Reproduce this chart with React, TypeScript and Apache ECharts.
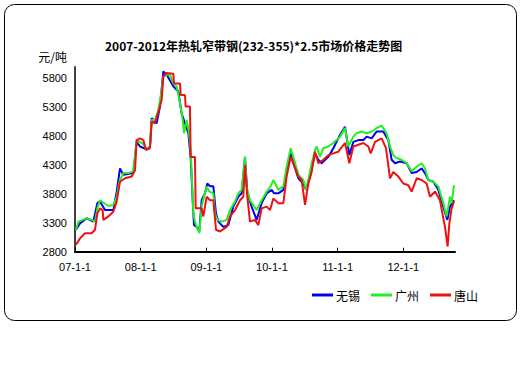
import React, { useEffect, useRef } from "react";
import * as echarts from "echarts";

const titleText = "2007-2012年热轧窄带钢(232-355)*2.5市场价格走势图";
const yUnit = "元/吨";
const xTickLabels = ["07-1-1", "08-1-1", "09-1-1", "10-1-1", "11-1-1", "12-1-1"];
const seriesNames = ["无锡", "广州", "唐山"];

// x = years elapsed since 2007-01-01
const wuxiX = [0.015, 0.076, 0.178, 0.279, 0.34, 0.381, 0.457, 0.584, 0.635, 0.685, 0.736, 0.888, 0.939, 0.99, 1.091, 1.142, 1.168, 1.244, 1.294, 1.345, 1.396, 1.497, 1.574, 1.624, 1.675, 1.726, 1.761, 1.792, 1.812, 1.853, 1.893, 1.929, 1.98, 2.015, 2.056, 2.107, 2.147, 2.183, 2.259, 2.335, 2.411, 2.487, 2.538, 2.589, 2.624, 2.69, 2.766, 2.843, 2.919, 2.995, 3.03, 3.096, 3.173, 3.223, 3.284, 3.325, 3.401, 3.477, 3.518, 3.579, 3.655, 3.706, 3.756, 3.858, 3.934, 4.036, 4.112, 4.178, 4.239, 4.315, 4.391, 4.442, 4.518, 4.594, 4.695, 4.772, 4.822, 4.873, 4.949, 5.051, 5.127, 5.203, 5.279, 5.33, 5.381, 5.457, 5.533, 5.609, 5.67, 5.711, 5.772];
const wuxiY = [3180, 3290, 3380, 3320, 3640, 3670, 3520, 3520, 3840, 4240, 4130, 4160, 4700, 4620, 4570, 4620, 5110, 5020, 5310, 5920, 5860, 5660, 5570, 5190, 5020, 4850, 4440, 3690, 3260, 3230, 3150, 3690, 3810, 3980, 3930, 3930, 3460, 3320, 3230, 3260, 3580, 3750, 3810, 4440, 3810, 3580, 3350, 3640, 3810, 3870, 3810, 3810, 3870, 4210, 4500, 4330, 4070, 3980, 3870, 4100, 4500, 4390, 4330, 4440, 4590, 4820, 4960, 4470, 4700, 4730, 4730, 4790, 4760, 4880, 4880, 4730, 4390, 4330, 4360, 4330, 4160, 4180, 4240, 4160, 4040, 4010, 3870, 3580, 3350, 3580, 3690];

const guangzhouX = [0.015, 0.051, 0.178, 0.254, 0.305, 0.34, 0.381, 0.457, 0.508, 0.584, 0.635, 0.675, 0.736, 0.812, 0.888, 0.939, 0.99, 1.041, 1.091, 1.142, 1.168, 1.218, 1.269, 1.32, 1.345, 1.396, 1.447, 1.497, 1.548, 1.599, 1.64, 1.66, 1.701, 1.736, 1.761, 1.787, 1.802, 1.827, 1.863, 1.893, 1.929, 1.964, 2.005, 2.046, 2.107, 2.132, 2.168, 2.234, 2.31, 2.36, 2.437, 2.487, 2.538, 2.589, 2.614, 2.665, 2.766, 2.843, 2.919, 2.98, 3.02, 3.096, 3.173, 3.223, 3.284, 3.325, 3.401, 3.477, 3.518, 3.553, 3.604, 3.655, 3.68, 3.731, 3.782, 3.858, 3.934, 4.036, 4.112, 4.162, 4.239, 4.289, 4.365, 4.442, 4.518, 4.594, 4.67, 4.746, 4.797, 4.848, 4.898, 4.975, 5.051, 5.127, 5.203, 5.279, 5.33, 5.381, 5.457, 5.533, 5.609, 5.66, 5.711, 5.736, 5.772];
const guangzhouY = [3180, 3320, 3380, 3350, 3320, 3550, 3690, 3630, 3590, 3610, 3750, 4010, 4160, 4160, 4190, 4730, 4700, 4660, 4570, 4620, 5080, 5080, 5250, 5600, 5830, 5860, 5860, 5710, 5660, 5370, 5080, 4850, 5080, 4850, 4560, 3870, 3460, 3320, 3200, 3120, 3580, 3750, 3930, 3840, 3810, 3460, 3350, 3320, 3350, 3520, 3670, 3810, 3870, 4440, 3930, 3690, 3520, 3690, 3840, 3930, 4040, 3870, 3930, 4270, 4590, 4440, 4130, 4040, 3870, 4040, 4330, 4560, 4620, 4440, 4590, 4620, 4680, 4790, 4940, 4620, 4790, 4850, 4880, 4850, 4880, 4940, 4980, 4850, 4620, 4470, 4420, 4390, 4330, 4190, 4270, 4330, 4240, 4040, 4010, 3930, 3640, 3410, 3750, 3640, 3950];

const tangshanX = [0.015, 0.076, 0.152, 0.254, 0.305, 0.34, 0.381, 0.421, 0.431, 0.508, 0.584, 0.635, 0.685, 0.761, 0.863, 0.914, 0.939, 0.99, 1.041, 1.081, 1.142, 1.168, 1.218, 1.269, 1.32, 1.345, 1.396, 1.497, 1.508, 1.599, 1.609, 1.675, 1.685, 1.751, 1.761, 1.827, 1.838, 1.929, 1.954, 2.005, 2.056, 2.107, 2.147, 2.208, 2.31, 2.36, 2.437, 2.513, 2.563, 2.589, 2.624, 2.665, 2.741, 2.792, 2.843, 2.919, 2.97, 3.02, 3.096, 3.173, 3.223, 3.284, 3.325, 3.401, 3.452, 3.503, 3.553, 3.604, 3.655, 3.706, 3.782, 3.858, 3.934, 4.01, 4.112, 4.178, 4.239, 4.315, 4.391, 4.467, 4.503, 4.569, 4.67, 4.736, 4.797, 4.848, 4.924, 5.0, 5.076, 5.127, 5.203, 5.279, 5.355, 5.406, 5.482, 5.558, 5.634, 5.675, 5.701, 5.736, 5.772];
const tangshanY = [2920, 3030, 3120, 3120, 3180, 3460, 3550, 3520, 3350, 3410, 3490, 3670, 4010, 4070, 4100, 4210, 4730, 4760, 4730, 4560, 4590, 5050, 5020, 5220, 5430, 5830, 5890, 5880, 5710, 5710, 5510, 5510, 5310, 5310, 4440, 4440, 3550, 3550, 3410, 3750, 3690, 3690, 3180, 3150, 3230, 3410, 3520, 3690, 3750, 4300, 3750, 3320, 3350, 3260, 3550, 3580, 3520, 3720, 3640, 3640, 4100, 4440, 4330, 4100, 4040, 3610, 3980, 4180, 4530, 4330, 4390, 4470, 4500, 4530, 4680, 4330, 4620, 4650, 4680, 4620, 4500, 4700, 4760, 4590, 4070, 4180, 4100, 3980, 3950, 3840, 4070, 4040, 3980, 3750, 3840, 3690, 3230, 2890, 3290, 3550, 3670];

const zip = (xs: number[], ys: number[]) => xs.map((x, i) => [x, ys[i]]);

export default function App() {
  const ref = useRef<HTMLDivElement>(null);
  useEffect(() => {
    if (!ref.current) return;
    const chart = echarts.init(ref.current, null, { renderer: "svg" });
    const labelFont = '"Liberation Sans", "Noto Sans CJK SC", sans-serif';
    const colors = ["#0000ee", "#22ee22", "#ee1111"];
    const datas = [zip(wuxiX, wuxiY), zip(guangzhouX, guangzhouY), zip(tangshanX, tangshanY)];
    chart.setOption({
      animation: false,
      backgroundColor: "#ffffff",
      title: {
        text: titleText,
        left: 100,
        top: 34,
        textStyle: {
          fontSize: 12,
          fontWeight: "bold",
          color: "#000",
          fontFamily: '"Noto Sans CJK SC", sans-serif',
        },
      },
      graphic: [
        {
          type: "rect",
          shape: { x: 4.5, y: 4.5, width: 512, height: 316, r: 10 },
          style: { fill: "none", stroke: "#000", lineWidth: 1 },
          silent: true,
          z: 0,
        },
      ],
      legend: {
        data: seriesNames,
        left: 307,
        top: 284,
        icon: "rect",
        itemWidth: 21,
        itemHeight: 3,
        itemGap: 11,
        textStyle: { fontSize: 12, color: "#000", fontFamily: '"Noto Sans CJK SC", sans-serif', padding: [0, 0, 0, -2] },
      },
      grid: { left: 75, right: 67, top: 66.7, bottom: 132.3, containLabel: false },
      xAxis: {
        type: "value",
        min: 0,
        max: 5.787,
        interval: 1,
        axisLine: { lineStyle: { color: "#000", width: 2 } },
        axisTick: { show: true, inside: true, length: 4, lineStyle: { color: "#000", width: 1 } },
        splitLine: { show: false },
        axisLabel: {
          showMaxLabel: false,
          margin: 10,
          fontSize: 11,
          color: "#000",
          fontFamily: labelFont,
          formatter: (v: number) => xTickLabels[Math.round(v)] ?? "",
        },
      },
      yAxis: {
        type: "value",
        min: 2800,
        max: 6000,
        interval: 500,
        name: yUnit,
        nameLocation: "end",
        nameGap: 4,
        nameTextStyle: {
          align: "right",
          verticalAlign: "bottom",
          padding: [0, 8, 0, 0],
          fontSize: 12,
          color: "#000",
          fontFamily: '"Noto Sans CJK SC", sans-serif',
        },
        axisLine: { show: true, lineStyle: { color: "#000", width: 1.5 } },
        axisTick: { show: false },
        splitLine: { show: false },
        axisLabel: {
          showMaxLabel: false,
          margin: 8,
          fontSize: 11,
          color: "#000",
          fontFamily: labelFont,
          formatter: (v: number) => String(v),
        },
      },
      series: seriesNames.map((name, i) => ({
        name,
        type: "line",
        data: datas[i],
        showSymbol: false,
        symbol: "none",
        color: colors[i],
        lineStyle: { width: 2, color: colors[i] },
        z: 2 + i,
      })),
    });
    return () => chart.dispose();
  }, []);
  return (
    <div
      ref={ref}
      style={{ position: "absolute", left: 0, top: 0, width: 522, height: 384, background: "#fff" }}
    />
  );
}
